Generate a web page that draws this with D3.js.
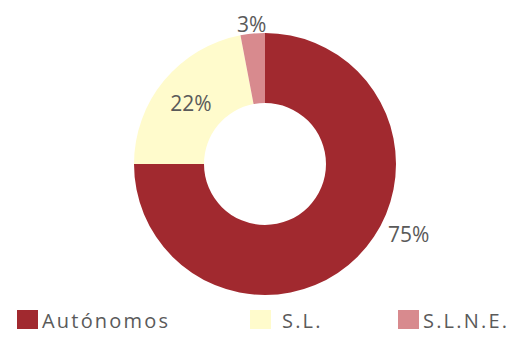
<!DOCTYPE html>
<html>
<head>
<meta charset="utf-8">
<script src="https://cdn.jsdelivr.net/npm/d3@7"></script>
<style>
  html, body { margin: 0; padding: 0; background: #fff; }
  svg { display: block; }
  text { font-family: "Open Sans", "Liberation Sans", sans-serif; fill: #5a5a5a; }
</style>
</head>
<body>
<svg id="chart" width="513" height="344"></svg>
<script>
// Company legal forms, share of total (%)
const categories = ["Autónomos", "S.L.", "S.L.N.E."];
const shares = [75, 22, 3];
const colors = ["#a1292f", "#fffbcc", "#d88a8e"];

const cx = 265, cy = 164;
const outerR = 131, innerR = 61;

const svg = d3.select("#chart");
const data = categories.map((c, i) => ({ name: c, value: shares[i], color: colors[i] }));

const pie = d3.pie().sort(null).value(d => d.value).startAngle(0).endAngle(2 * Math.PI);
const arcs = pie(data);
const arc = d3.arc().innerRadius(innerR).outerRadius(outerR);

const g = svg.append("g").attr("transform", `translate(${cx},${cy})`);
g.selectAll("path.slice")
  .data(arcs)
  .join("path")
  .attr("class", "slice")
  .attr("d", arc)
  .attr("fill", d => d.data.color);

// Data labels: placement along each slice (fraction of its sweep) and distance from center
const labelPlace = [
  { t: 0.43, r: 160 },
  { t: 0.5, r: (innerR + outerR) / 2 },
  { t: 0.5, r: 141 }
];
const labelAngle = (d, i) => d.startAngle + labelPlace[i].t * (d.endAngle - d.startAngle);
g.selectAll("text.lbl")
  .data(arcs)
  .join("text")
  .attr("class", "lbl")
  .attr("text-anchor", "middle")
  .attr("dominant-baseline", "central")
  .attr("font-size", 21)
  .attr("x", (d, i) => Math.sin(labelAngle(d, i)) * labelPlace[i].r)
  .attr("y", (d, i) => -Math.cos(labelAngle(d, i)) * labelPlace[i].r)
  .text(d => d.data.value + "%");

// Legend along the bottom
const legendItemX = { "Autónomos": 17, "S.L.": 250, "S.L.N.E.": 398 };
const leg = svg.append("g").selectAll("g")
  .data(data)
  .join("g")
  .attr("transform", d => `translate(${legendItemX[d.name]},310)`);
leg.append("rect")
  .attr("width", 21).attr("height", 19)
  .attr("fill", d => d.color);
leg.append("text")
  .attr("x", d => d.name === "S.L." ? 32 : 25)
  .attr("y", 10)
  .attr("dominant-baseline", "central")
  .attr("font-size", 20)
  .attr("letter-spacing", 2.2)
  .text(d => d.name);
</script>
</body>
</html>
